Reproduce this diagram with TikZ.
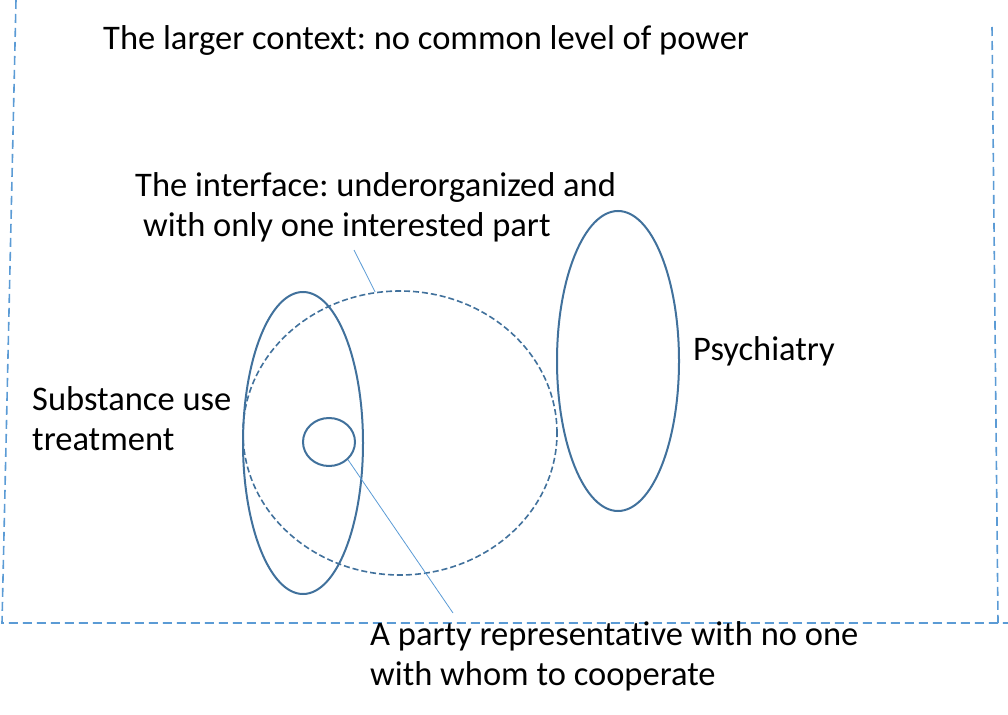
\documentclass[tikz,border=0pt]{standalone}
\usepackage{fontspec}
\setmainfont{Carlito}[Ligatures=NoCommon]
\usetikzlibrary{shapes.geometric}
\definecolor{ringblue}{HTML}{41719C}
\definecolor{lightblue}{HTML}{5B9BD5}
\tikzset{
  ring/.style={ellipse, draw=ringblue, line width=2pt, inner sep=0pt},
  dashring/.style={ellipse, draw=ringblue, line width=1.6pt, dash pattern=on 6pt off 3pt, inner sep=0pt},
  framestyle/.style={draw=lightblue, line width=1.6pt, dash pattern=on 9pt off 5pt},
  leader/.style={draw=lightblue, line width=0.8pt},
  label/.style={anchor=base west, inner sep=0pt, align=left, font=\fontsize{34.5}{40}\selectfont\frenchspacing}
}
\begin{document}
\begin{tikzpicture}[x=1pt, y=-1pt]
\useasboundingbox (0,0) rectangle (1008,714);
% frame
\draw[framestyle] (16,0) -- (2,623) -- (1008,623);
\draw[framestyle] (992,27) -- (998,623);
% shapes
\node[dashring, minimum width=314pt, minimum height=284pt] (iface) at (400,433) {};
\node[ring, minimum width=120pt, minimum height=302pt] (sut) at (303,443) {};
\node[ring, minimum width=52pt, minimum height=48pt] (rep) at (329,442) {};
\node[ring, minimum width=122pt, minimum height=300pt] (psy) at (618,361) {};
% texts (multi-line nodes: base is the last line)
\node[label] (ctx) at (103,50) {The larger context: no common level of power};
\node[label] (ifacetxt) at (135,236) {The interface: underorganized and\\\hspace{8pt}with only one interested part};
\node[label] (suttxt) at (32,450) {Substance use\\treatment};
\node[label] (psytxt) at (693,360) {Psychiatry};
\node[label] (reptxt) at (370,685) {A party representative with no one\\with whom to cooperate};
% leaders
\coordinate (l1) at (354,250);
\coordinate (l2) at (453,613);
\draw[leader] (l1) -- (iface.100);
\draw[leader] (rep.-43) -- (l2);
\end{tikzpicture}
\end{document}
